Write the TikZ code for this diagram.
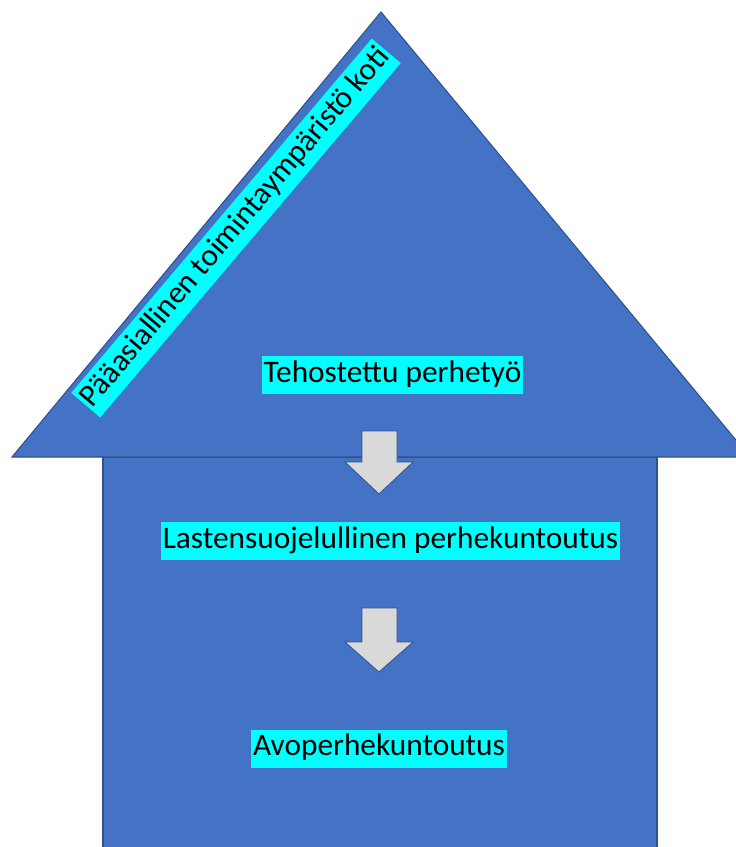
\documentclass[tikz,border=0pt]{standalone}
\usepackage{fontspec}
\setmainfont{Carlito}
\usepackage{xcolor}
\usetikzlibrary{calc}
\definecolor{housefill}{HTML}{4472C4}
\definecolor{houseline}{HTML}{2F528F}
\definecolor{labelfill}{HTML}{00FFFF}
\definecolor{arrowfill}{HTML}{D9D9D9}
\tikzset{
	label box/.style={
			fill=labelfill, inner xsep=1.5pt, inner ysep=0pt,
			minimum height=28.5pt, text height=16.5pt, text depth=5.5pt,
			font=\fontsize{23.5}{28}\selectfont
		},
	down arrow/.style={fill=arrowfill, draw=houseline, line width=0.6pt, line join=miter}
}

\begin{document}
\begin{tikzpicture}[x=0.75pt, y=-0.75pt]
			\useasboundingbox (0,0) rectangle (736,847);

			% talon runko ja katto
			\path [fill=housefill, draw=houseline, line width=0.8pt] (103,457) -- (657,457) -- (657,860) -- (103,860) -- cycle;
			\path [fill=housefill, draw=houseline, line width=0.8pt] (12,457) -- (381,12) -- (750,457) -- cycle;

			% tekstit
			\node [label box, rotate=49.7] (koti) at (236,228) {Pääasiallinen toimintaympäristö koti};
			\node [label box] (tehostettu) at (392.5,375) {Tehostettu perhetyö};
			\node [label box] (perhekuntoutus) at (390.5,541) {Lastensuojelullinen perhekuntoutus};
			\node [label box] (avo) at (379,748.5) {Avoperhekuntoutus};

			% nuolet
			\draw [down arrow] (362,431) -- (397,431) -- (397,462) -- (413,462)
				-- (379,494) -- (345,462) -- (362,462) -- cycle;
			\draw [down arrow] (362,608) -- (397,608) -- (397,642) -- (413,642)
				-- (379,672) -- (345,642) -- (362,642) -- cycle;
		\end{tikzpicture}
\end{document}
